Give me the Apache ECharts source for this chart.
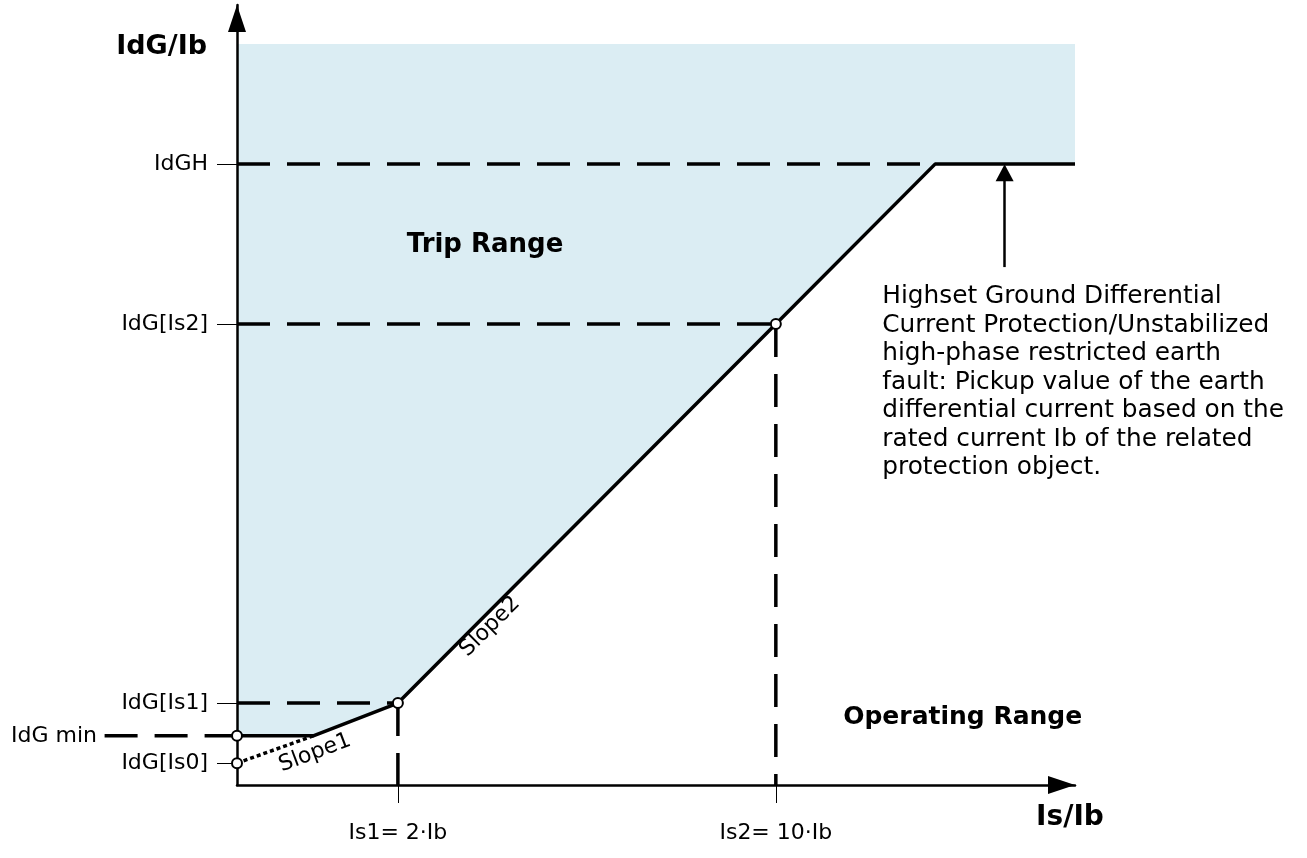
<!DOCTYPE html>
<html>
<head>
<meta charset="utf-8">
<title>IdG/Ib characteristic</title>
<script src="https://cdn.jsdelivr.net/npm/echarts@6/dist/echarts.min.js"></script>
<style>
  html, body { margin: 0; padding: 0; background: #fff; }
  #chart { width: 1307px; height: 858px; }
</style>
</head>
<body>
<div id="chart"></div>
<script>
// schematic units (not to scale): x 0..100 for Is/Ib, y 0..100 for IdG/Ib
const curveX = [0, 9.1, 19.2, 64.3, 83.3, 100];
const curveY = [6.3, 6.3, 10.5, 59.1, 79.6, 79.6];
const slope1X = [0, 9.1];
const slope1Y = [2.8, 6.3];
const tripTop = 95;

const yTickValues = [2.8, 10.5, 59.1, 79.6];
const yTickLabels = ['IdG[Is0]', 'IdG[Is1]', 'IdG[Is2]', 'IdGH'];
const xTickValues = [19.2, 64.3];
const xTickLabels = ['Is1= 2·Ib', 'Is2= 10·Ib'];

const idgMin = 6.3;
const idgMinStart = -15.8;
const markerPts = [[0, 2.8], [0, 6.3], [19.2, 10.5], [64.3, 59.1]];
const pickupArrow = [[91.6, 66.4], [91.6, 78.5]];

const noteText = [
  'Highset Ground Differential',
  'Current Protection/Unstabilized',
  'high-phase restricted earth',
  'fault: Pickup value of the earth',
  'differential current based on the',
  'rated current Ib of the related',
  'protection object.'
].join('\n');

const zip = (xs, ys) => xs.map((x, i) => [x, ys[i]]);
const curve = zip(curveX, curveY);

// trip area = everything above the characteristic, up to tripTop
const tripArea = [[0, tripTop], [curveX[curveX.length - 1], tripTop]]
  .concat(curve.slice().reverse());

// dashed guides from the axes to the break points
const guides = [
  [[0, curveY[4]], [curveX[4], curveY[4]]],
  [[0, curveY[3]], [curveX[3], curveY[3]]],
  [[0, curveY[2]], [curveX[2], curveY[2]]],
  [[curveX[2], curveY[2]], [curveX[2], 0]],
  [[curveX[3], curveY[3]], [curveX[3], 0]]
];
// the IdG min guide sits left of the y axis, outside the grid
const idgMinGuide = [[idgMinStart, idgMin], [0, idgMin]];

const font = 'DejaVu Sans';
const dash = [33, 17];
const txt = (s, extra) => Object.assign({ formatter: s, color: '#000', fontFamily: font, fontSize: 22 }, extra);

const chart = echarts.init(document.getElementById('chart'));
chart.setOption({
  animation: false,
  backgroundColor: '#fff',
  textStyle: { fontFamily: font, color: '#000' },
  grid: { left: 237, right: 232, top: 5, bottom: 73, containLabel: false, outerBoundsMode: 'none' },
  xAxis: {
    type: 'value', min: 0, max: 100, z: 2,
    name: 'Is/Ib', nameLocation: 'end', nameGap: -5,
    nameTextStyle: { fontFamily: font, fontWeight: 'bold', fontSize: 28, color: '#000', align: 'center', verticalAlign: 'top', padding: [19, 0, 0, 0] },
    axisLine: { show: true, symbol: ['none', 'triangle'], symbolSize: [18, 27], symbolOffset: [0, -13.5], lineStyle: { color: '#000', width: 2.5 } },
    axisTick: { show: true, customValues: xTickValues, length: 18, lineStyle: { color: '#000', width: 1 } },
    axisLabel: {
      customValues: xTickValues, margin: 37, fontSize: 22, color: '#000', fontFamily: font,
      formatter: v => xTickLabels[xTickValues.indexOf(v)]
    },
    splitLine: { show: false }
  },
  yAxis: {
    type: 'value', min: 0, max: 100, z: 2,
    name: 'IdG/Ib', nameLocation: 'end', nameGap: -42,
    nameTextStyle: { fontFamily: font, fontWeight: 'bold', fontSize: 27, color: '#000', align: 'right', verticalAlign: 'middle', padding: [0, 30, 0, 0] },
    axisLine: { show: true, symbol: ['none', 'triangle'], symbolSize: [18, 27], symbolOffset: [0, -13.5], lineStyle: { color: '#000', width: 2.5 } },
    axisTick: { show: true, customValues: yTickValues, length: 20, lineStyle: { color: '#000', width: 1 } },
    axisLabel: {
      customValues: yTickValues, margin: 29, fontSize: 22, color: '#000', fontFamily: font,
      formatter: v => yTickLabels[yTickValues.indexOf(v)]
    },
    splitLine: { show: false }
  },
  series: [
    {
      name: 'Trip Range', type: 'custom', z: 1, clip: false,
      data: tripArea,
      encode: { x: 0, y: 1 },
      renderItem(params, api) {
        if (params.dataIndex !== 0) return;
        return {
          type: 'polygon',
          shape: { points: tripArea.map(p => api.coord(p)) },
          style: { fill: '#dbedf3' }
        };
      }
    },
    ...guides.map(g => ({
      type: 'line', z: 3, clip: false, symbol: 'none', silent: true,
      data: g,
      lineStyle: { color: '#000', width: 3.5, type: dash }
    })),
    {
      name: 'IdG min guide', type: 'custom', z: 3, clip: false, silent: true,
      data: idgMinGuide,
      encode: { x: 0, y: 1 },
      renderItem(params, api) {
        if (params.dataIndex !== 0) return;
        const a = api.coord(idgMinGuide[0]);
        const b = api.coord(idgMinGuide[1]);
        return {
          type: 'line',
          shape: { x1: a[0], y1: a[1], x2: b[0], y2: b[1] },
          style: { stroke: '#000', lineWidth: 3.5, lineDash: dash }
        };
      }
    },
    {
      name: 'Slope1 extension', type: 'line', z: 4, clip: false, symbol: 'none',
      data: zip(slope1X, slope1Y),
      lineStyle: { color: '#000', width: 3.5, type: [4, 3] }
    },
    {
      name: 'Characteristic', type: 'line', z: 5, clip: false, symbol: 'none',
      data: curve,
      lineStyle: { color: '#000', width: 3.5 },
      markLine: {
        silent: true,
        symbol: ['none', 'triangle'],
        symbolSize: [18, 17],
        label: { show: false },
        lineStyle: { color: '#000', width: 2.5, type: 'solid' },
        data: [[{ coord: pickupArrow[0] }, { coord: pickupArrow[1] }]]
      }
    },
    {
      name: 'Points', type: 'scatter', z: 6, clip: false,
      symbol: 'circle', symbolSize: 10,
      itemStyle: { color: '#fff', borderColor: '#000', borderWidth: 2, opacity: 1 },
      data: markerPts
    },
    {
      name: 'Texts', type: 'scatter', z: 7, clip: false, symbolSize: 0, silent: true,
      itemStyle: { opacity: 1 },
      label: { show: true, position: 'inside', color: '#000', fontFamily: font, fontSize: 22 },
      data: [
        { value: [29.6, 69.2], label: txt('Trip Range', { fontWeight: 'bold', fontSize: 26 }) },
        { value: [86.6, 8.7], label: txt('Operating Range', { fontWeight: 'bold', fontSize: 25 }) },
        { value: [9.3, 4.1], label: txt('Slope1', { rotate: 20.6 }) },
        { value: [30.2, 20.3], label: txt('Slope2', { rotate: 45 }) },
        { value: [-16.7, idgMin], label: txt('IdG min', { align: 'right' }) },
        { value: [77.0, 64.4], label: txt(noteText, { align: 'left', verticalAlign: 'top', fontSize: 24.8, lineHeight: 28.5 }) }
      ]
    }
  ]
});
</script>
</body>
</html>
